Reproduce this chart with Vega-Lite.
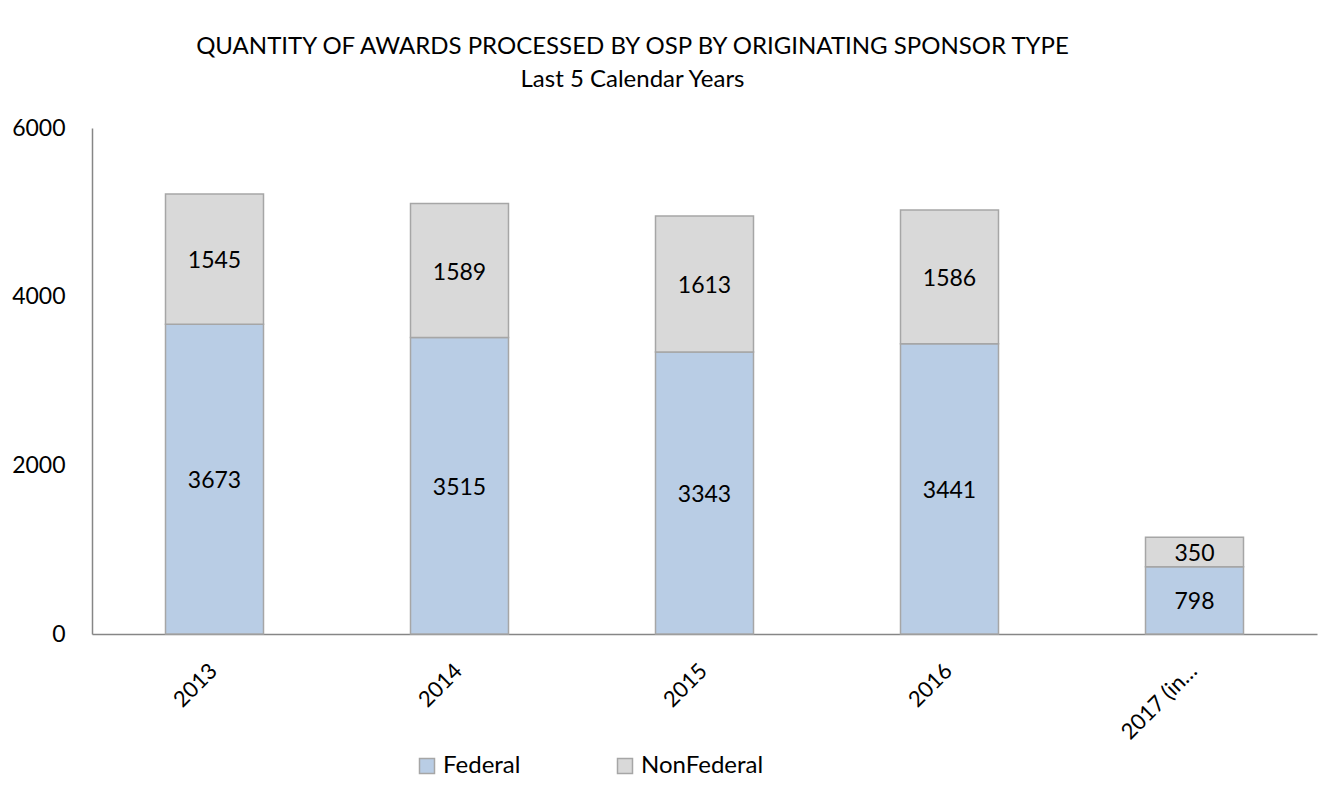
{
  "$schema": "https://vega.github.io/schema/vega-lite/v6.json",
  "width": 1225,
  "height": 506,
  "autosize": "none",
  "padding": {"left": 92, "top": 128, "right": 1, "bottom": 175},
  "background": "white",
  "config": {"view": {"stroke": null}},
  "title": {
    "text": ["QUANTITY OF AWARDS PROCESSED BY OSP BY ORIGINATING SPONSOR TYPE", "Last 5 Calendar Years"],
    "font": "Lato",
    "fontSize": 24,
    "fontWeight": "normal",
    "color": "#000000",
    "anchor": "middle",
    "frame": "group",
    "dx": -72,
    "lineHeight": 33,
    "offset": 25
  },
  "data": {
    "values": [
      {"year": "2013", "type": "Federal", "value": 3673},
      {"year": "2013", "type": "NonFederal", "value": 1545},
      {"year": "2014", "type": "Federal", "value": 3515},
      {"year": "2014", "type": "NonFederal", "value": 1589},
      {"year": "2015", "type": "Federal", "value": 3343},
      {"year": "2015", "type": "NonFederal", "value": 1613},
      {"year": "2016", "type": "Federal", "value": 3441},
      {"year": "2016", "type": "NonFederal", "value": 1586},
      {"year": "2017 (in…", "type": "Federal", "value": 798},
      {"year": "2017 (in…", "type": "NonFederal", "value": 350}
    ]
  },
  "transform": [
    {"stack": "value", "groupby": ["year"], "sort": [{"field": "type", "order": "ascending"}], "as": ["v0", "v1"]}
  ],
  "encoding": {
    "x": {
      "field": "year",
      "type": "nominal",
      "sort": ["2013", "2014", "2015", "2016", "2017 (in…"],
      "scale": {"paddingInner": 0.6, "paddingOuter": 0.3},
      "axis": {
        "title": null,
        "ticks": false,
        "labelAngle": -45,
        "labelFont": "Lato",
        "labelFontSize": 22,
        "labelColor": "#000000",
        "labelPadding": 26,
        "labelOffset": -8,
        "domainColor": "#868686",
        "domainWidth": 1.5
      }
    }
  },
  "layer": [
    {
      "mark": {"type": "bar", "stroke": "#A6A6A6", "strokeWidth": 1.5},
      "encoding": {
        "y": {
          "field": "v0",
          "type": "quantitative",
          "scale": {"domain": [0, 6000], "nice": false},
          "axis": {
            "title": null,
            "values": [0, 2000, 4000, 6000],
            "format": "d",
            "ticks": false,
            "grid": false,
            "labelFont": "Lato",
            "labelFontSize": 23,
            "labelColor": "#000000",
            "labelPadding": 27,
            "domainColor": "#868686",
            "domainWidth": 1.5
          }
        },
        "y2": {"field": "v1"},
        "color": {
          "field": "type",
          "type": "nominal",
          "scale": {"domain": ["Federal", "NonFederal"], "range": ["#B9CDE5", "#D9D9D9"]},
          "legend": {
            "title": null,
            "orient": "none",
            "direction": "horizontal",
            "legendX": 323,
            "legendY": 626,
            "symbolType": "square",
            "symbolSize": 225,
            "symbolStrokeColor": "#A6A6A6",
            "symbolStrokeWidth": 1.5,
            "labelFont": "Lato",
            "labelFontSize": 24,
            "labelColor": "#000000",
            "labelOffset": 4,
            "columnPadding": 92
          }
        }
      }
    },
    {
      "transform": [
        {"fold": ["v0", "v1"], "as": ["edge", "pos"]},
        {"aggregate": [{"op": "mean", "field": "pos", "as": "mid"}], "groupby": ["year", "type", "value"]}
      ],
      "mark": {"type": "text", "font": "Lato", "fontSize": 23, "color": "#000000", "dy": 2},
      "encoding": {
        "y": {"field": "mid", "type": "quantitative"},
        "text": {"field": "value", "type": "quantitative"}
      }
    }
  ]
}
